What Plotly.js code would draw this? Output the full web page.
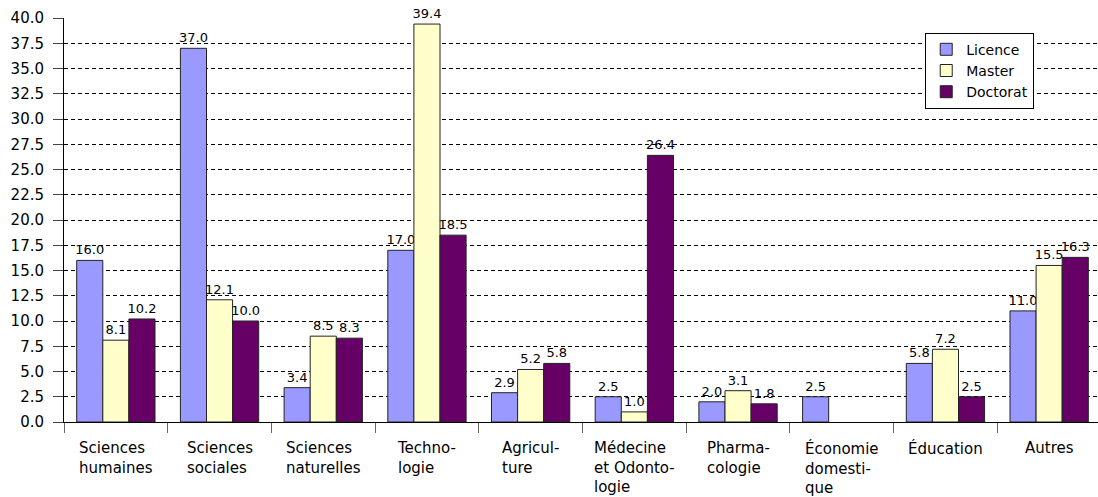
<!DOCTYPE html>
<html>
<head>
<meta charset="utf-8">
<script src="https://cdn.plot.ly/plotly-3.0.1.min.js"></script>
<style>html,body{margin:0;padding:0;overflow:hidden;background:#fff;}</style>
</head>
<body>
<div id="chart"></div>
<script>
const categories = ["Sciences humaines","Sciences sociales","Sciences naturelles","Technologie","Agriculture","Médecine et Odontologie","Pharmacologie","Économie domestique","Éducation","Autres"];
const categoryLabels = ["Sciences<br>humaines","Sciences<br>sociales","Sciences<br>naturelles","Techno-<br>logie","Agricul-<br>ture","Médecine<br>et Odonto-<br>logie","Pharma-<br>cologie","Économie<br>domesti-<br>que","Éducation","Autres"];
const licence = [16.0, 37.0, 3.4, 17.0, 2.9, 2.5, 2.0, 2.5, 5.8, 11.0];
const master = [8.1, 12.1, 8.5, 39.4, 5.2, 1.0, 3.1, null, 7.2, 15.5];
const doctorat = [10.2, 10.0, 8.3, 18.5, 5.8, 26.4, 1.8, null, 2.5, 16.3];
const seriesNames = ["Licence", "Master", "Doctorat"];
const seriesColors = ["#9999FF", "#FFFFCC", "#660066"];

const FONT = "DejaVu Sans, Verdana, sans-serif";
const data = [licence, master, doctorat].map((vals, i) => ({
  type: "bar",
  name: seriesNames[i],
  x: categories,
  y: vals,
  marker: {color: seriesColors[i], line: {color: "#222", width: 1}},
  text: vals.map(v => v === null ? "" : v.toFixed(1)),
  textposition: "outside",
  textfont: {family: FONT, size: 13, color: "#000"},
  constraintext: "none",
  cliponaxis: false,
  hoverinfo: "none"
}));

const annotations = categories.map((c, i) => ({
  x: c, xref: "x", y: 0, yref: "paper",
  text: categoryLabels[i], showarrow: false,
  xanchor: "center", yanchor: "top", align: "left",
  yshift: -15,
  font: {family: FONT, size: 15, color: "#000"}
}));

const layout = {
  width: 1101, height: 497,
  margin: {l: 64, r: 0, t: 18, b: 75},
  paper_bgcolor: "#fff", plot_bgcolor: "#fff",
  font: {family: FONT, size: 14, color: "#000"},
  barmode: "group",
  bargap: 0.245, bargroupgap: 0,
  showlegend: true,
  legend: {
    x: 0.8305, y: 0.9636, xanchor: "left", yanchor: "top",
    bgcolor: "#fff", bordercolor: "#000", borderwidth: 1,
    font: {family: FONT, size: 14, color: "#000"},
    itemwidth: 30,
    tracegroupgap: 0
  },
  xaxis: {
    type: "category",
    showticklabels: false,
    ticks: "outside", ticklen: 10, tickcolor: "#666", tickwidth: 1,
    tickson: "boundaries",
    showline: true, linecolor: "#000", linewidth: 1,
    showgrid: false, zeroline: false, fixedrange: true
  },
  yaxis: {
    range: [0, 40], dtick: 2.5, tick0: 0, tickformat: ".1f",
    ticks: "outside", ticklen: 10, tickcolor: "#444", tickwidth: 1,
    ticklabelstandoff: 6,
    tickfont: {family: FONT, size: 15, color: "#000"},
    showline: true, linecolor: "#000", linewidth: 1,
    showgrid: true, gridcolor: "#000", gridwidth: 1, griddash: "4px,3px",
    zeroline: false, fixedrange: true
  },
  annotations: annotations
};

Plotly.newPlot("chart", data, layout, {displayModeBar: false, staticPlot: true});
</script>
</body>
</html>
